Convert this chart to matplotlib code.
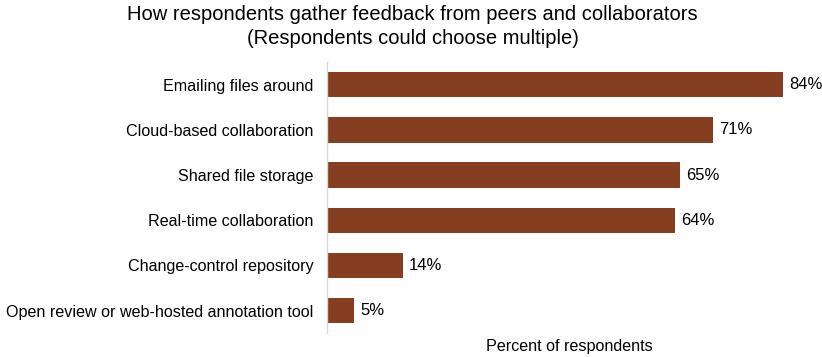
import matplotlib
matplotlib.use("Agg")
import matplotlib.pyplot as plt

plt.rcParams['font.family'] = ['Liberation Sans', 'DejaVu Sans']

categories = ["Emailing files around", "Cloud-based collaboration", "Shared file storage",
              "Real-time collaboration", "Change-control repository",
              "Open review or web-hosted annotation tool"]
percent = [84, 71, 65, 64, 14, 5]

fig = plt.figure(figsize=(8.22, 3.57), dpi=100)
ax = fig.add_axes([0.398, 0.067, 0.557, 0.759])

y = list(range(len(categories)))
ax.barh(y, percent, height=0.56, color="#853e1f", edgecolor="none")
for yi, v in zip(y, percent):
    ax.text(v + 1.1, yi, f"{v}%", va="center", ha="left", fontsize=12, clip_on=False)

ax.set_yticks(y)
ax.set_yticklabels(categories, fontsize=11.6)
ax.set_ylim(len(categories) - 0.5, -0.5)
ax.set_xlim(0, 84.3)
ax.set_xticks([])
ax.tick_params(axis="y", length=0, pad=10)
for s in ("top", "right", "bottom"):
    ax.spines[s].set_visible(False)
ax.spines["left"].set_color("#d9d9d9")
ax.spines["left"].set_linewidth(1)
ax.set_xlabel("Percent of respondents", fontsize=11.6, labelpad=4)
ax.xaxis.set_label_coords(0.53, -0.02, transform=ax.transAxes)
ax.xaxis.label.set_va("top")

fig.text(0.502, 0.985, "How respondents gather feedback from peers and collaborators\n"
         "(Respondents could choose multiple)", ha="center", va="top",
         fontsize=14.5, linespacing=1.3)

fig.savefig("out.png", dpi=100, facecolor="white")
